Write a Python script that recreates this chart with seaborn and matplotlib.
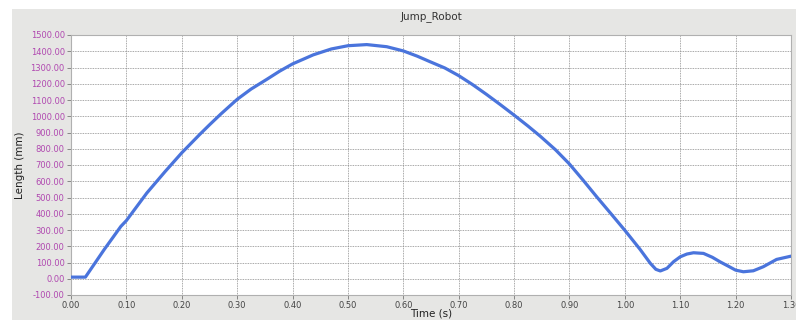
import matplotlib
matplotlib.use("Agg")
import matplotlib.pyplot as plt
import matplotlib.patches as mpatches
import pandas as pd
import seaborn as sns

# ---- data ----
time_s = [0.000, 0.026, 0.060, 0.090, 0.100, 0.137, 0.170, 0.200, 0.233, 0.250,
          0.270, 0.300, 0.325, 0.353, 0.377, 0.400, 0.4375, 0.470, 0.500, 0.534,
          0.570, 0.600, 0.625, 0.648, 0.675, 0.700, 0.725, 0.750, 0.775, 0.800,
          0.825, 0.847, 0.875, 0.900, 0.925, 0.949, 0.975, 1.000, 1.027, 1.046,
          1.056, 1.064, 1.076, 1.088, 1.100, 1.112, 1.124, 1.142, 1.158, 1.172,
          1.187, 1.200, 1.214, 1.232, 1.250, 1.274, 1.300]
length_mm = [10, 10, 180, 322, 358, 528, 660, 775, 890, 947,
             1012, 1104, 1167, 1226, 1278, 1322, 1378, 1414, 1434, 1441,
             1428, 1402, 1370, 1336, 1297, 1250, 1195, 1135, 1072, 1007,
             940, 878, 793, 706, 605, 505, 400, 298, 183, 95,
             58, 48, 64, 105, 135, 152, 160, 156, 132, 104,
             77, 53, 43, 49, 74, 119, 139]
y_ticks = [-100, 0, 100, 200, 300, 400, 500, 600, 700, 800, 900, 1000,
           1100, 1200, 1300, 1400, 1500]
x_ticks = [0.0, 0.1, 0.2, 0.3, 0.4, 0.5, 0.6, 0.7, 0.8, 0.9, 1.0, 1.1, 1.2, 1.3]
title = "Jump_Robot"
x_label = "Time (s)"
y_label = "Length (mm)"

df = pd.DataFrame({"Time": time_s, "Length": length_mm})

sns.set_theme(style="white")
plt.rcParams['font.family'] = ['DejaVu Sans']

W, H = 796, 320
fig = plt.figure(figsize=(W / 100, H / 100), dpi=100, facecolor="white")
# gray panel background
fig.patches.append(mpatches.Rectangle((12 / W, 0), 1 - 12 / W, 1 - 9 / H,
                                      transform=fig.transFigure,
                                      facecolor="#e6e6e4", edgecolor="none",
                                      zorder=-10))
ax = fig.add_axes([71 / W, 1 - 295 / H, (791 - 71) / W, (295 - 35) / H])
ax.set_facecolor("white")

sns.lineplot(data=df, x="Time", y="Length", ax=ax, color="#4a74dc",
             linewidth=2.3, zorder=3)
for ln in ax.lines:
    ln.set_solid_joinstyle("round")
    ln.set_solid_capstyle("round")

ax.set_xlim(0, 1.3)
ax.set_ylim(-100, 1500)
ax.set_xticks(x_ticks)
ax.set_yticks(y_ticks)
ax.set_xticklabels([f"{v:.2f}" for v in x_ticks], fontsize=6, color="#444444")
ax.set_yticklabels([f"{v:.2f}" for v in y_ticks], fontsize=6, color="#b048b0")
ax.tick_params(axis="both", direction="out", length=3, width=0.6,
               color="#777777", pad=1.5, bottom=True, left=True)

ax.grid(True, linestyle=(0, (1, 1)), color="#8a8a8a", linewidth=0.6, zorder=1)
for s in ax.spines.values():
    s.set_color("#b0b0b0")
    s.set_linewidth(0.8)

ax.set_xlabel("")
fig.text((71 + 791) / 2 / W, 1 - 313 / H, x_label, ha="center", va="center",
         fontsize=7.5, color="#222222")
ax.set_ylabel(y_label, fontsize=7.5, color="#222222", labelpad=4)
fig.text((71 + 791) / 2 / W, 1 - 17 / H, title, ha="center", va="center",
         fontsize=7.5, color="#333333")

fig.savefig("out.png", dpi=100, facecolor=fig.get_facecolor())
